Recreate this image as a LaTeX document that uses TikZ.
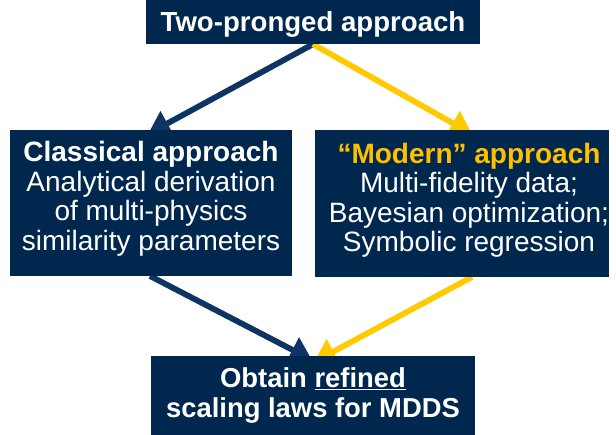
\documentclass[tikz,border=0pt]{standalone}
\usepackage{fontspec}
\setmainfont{Liberation Sans}
\usetikzlibrary{arrows.meta}
\definecolor{navy}{HTML}{00284F}
\definecolor{navyarrow}{HTML}{0E3463}
\definecolor{gold}{HTML}{FFC000}
\definecolor{goldarrow}{HTML}{FFCA00}
\pgfdeclarelayer{bg}
\pgfsetlayers{bg,main}
\tikzset{
  box/.style={fill=navy, draw=none, inner sep=0pt, rectangle},
  txt/.style={text=white, align=center, inner sep=0pt, font=\fontsize{28}{29.5}\selectfont},
  darr/.style={draw=navyarrow, line width=5.8pt, -{Triangle[width=27pt,length=22pt]}},
  yarr/.style={draw=goldarrow, line width=5.8pt, -{Triangle[width=27pt,length=22pt]}},
}
\begin{document}
\begin{tikzpicture}[x=1pt,y=-1pt]
\useasboundingbox (0,0) rectangle (616,435);
% boxes
\node[box, minimum width=334pt, minimum height=44pt] (top) at (313,22) {};
\node[box, minimum width=282pt, minimum height=146pt] (left) at (151,203) {};
\node[box, minimum width=294pt, minimum height=147pt] (right) at (462,203.5) {};
\node[box, minimum width=324pt, minimum height=79pt] (bottom) at (313,395.5) {};
% texts
\node[txt, font=\fontsize{27.6}{29.5}\selectfont\bfseries] (toptxt) at ([yshift=-2.5pt]top.center) {Two-pronged approach};
\node[txt] (lefttxt) at ([yshift=4pt]left.center) {\textbf{Classical approach}\\Analytical derivation\\of multi-physics\\similarity parameters};
\node[txt] (righttxt) at ([xshift=7pt,yshift=3pt]right.center) {\textbf{\textcolor{gold}{“Modern” approach}}\\Multi-fidelity data;\\Bayesian optimization;\\Symbolic regression};
\node[txt, font=\fontsize{27.4}{30}\selectfont\bfseries] (bottomtxt) at (bottom.center) {Obtain \underline{refined}\\scaling laws for MDDS};
% arrow end points
\coordinate (tlend) at (148,134);
\coordinate (trend) at (472,134);
\coordinate (blstart) at (150,276);
\coordinate (brstart) at (472,277);
\coordinate (blend) at (312,360);
\coordinate (brend) at (314,362);
\begin{pgfonlayer}{bg}
\draw[darr] (top.south) -- (tlend);
\draw[yarr] (top.south) -- (trend);
\draw[darr] (blstart) -- (blend);
\draw[yarr] (brstart) -- (brend);
\end{pgfonlayer}
\end{tikzpicture}
\end{document}
